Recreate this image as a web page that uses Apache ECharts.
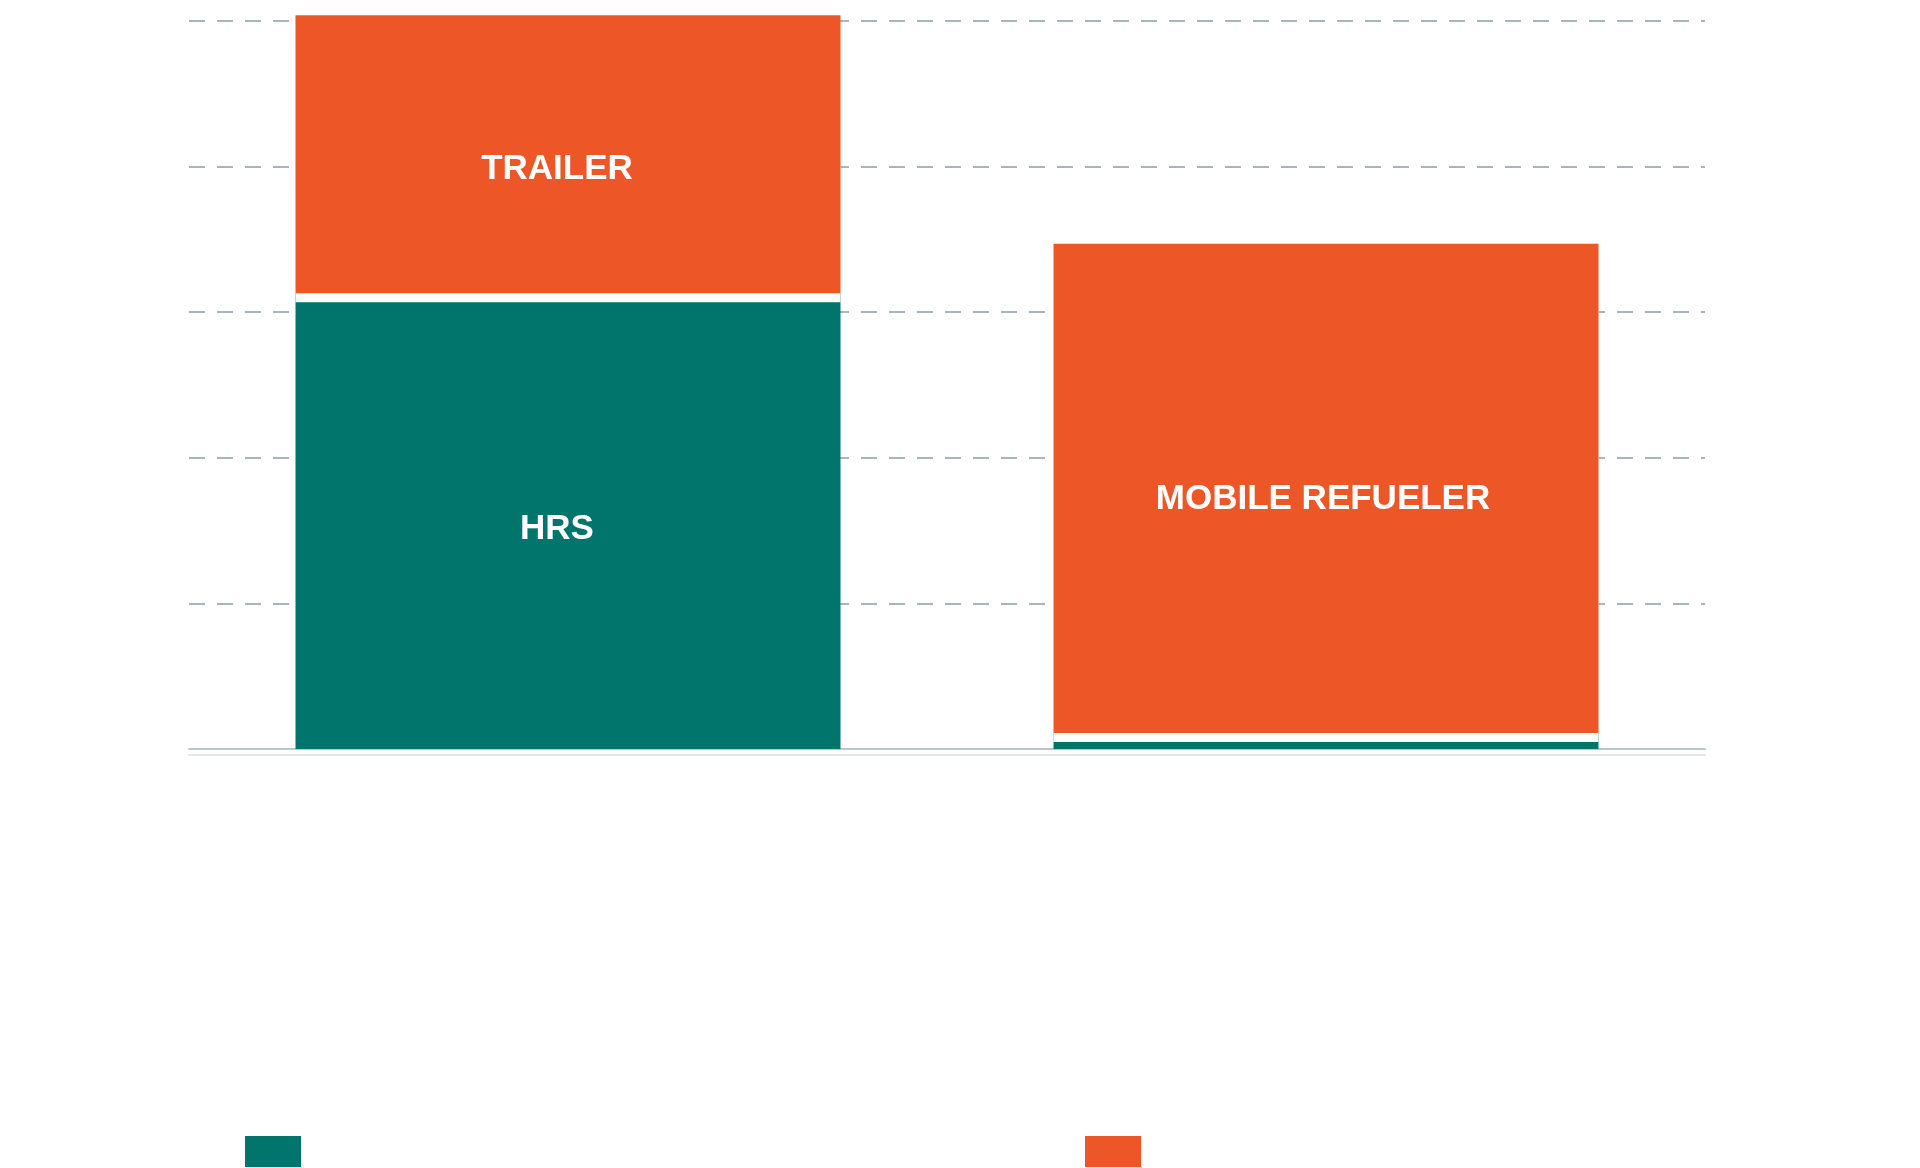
<!DOCTYPE html>
<html>
<head>
<meta charset="utf-8">
<title>HRS vs mobile refueler</title>
<style>
html,body{margin:0;padding:0;background:#fff;}
#main{width:1920px;height:1168px;}
</style>
<script src="https://cdn.jsdelivr.net/npm/echarts@6/dist/echarts.min.js"></script>
</head>
<body>
<div id="main"></div>
<script>
// 图表数据
var categories = ['Trailer delivery\nto a fixed station', 'Mobile refueler\nwith onboard storage'];
var seriesNames = ['Hydrogen refueling station (HRS)', 'Delivery equipment'];
var hrsValues = [3.13, 0.11];
var deliveryValues = [1.91, 3.36];
var hrsLabels = ['HRS', ''];
var deliveryLabels = ['TRAILER', 'MOBILE REFUELER'];
var yTickLabels = ['0', '1', '2', '3', '4', '5'];

var teal = '#01746b';
var orange = '#ed5627';

var myChart = echarts.init(document.getElementById('main'));

// 柱子上的白色文字
function barLabel(texts, offsets){
	return texts.map(function(t, i){
		return {
			show: t !== '',
			formatter: t,
			offset: offsets[i]
		};
	});
}
var hrsLabelOpt = barLabel(hrsLabels, [[-11,8],[0,0]]);
var deliveryLabelOpt = barLabel(deliveryLabels, [[-11,15],[-3,11]]);

var option = {
	animation: false,
	backgroundColor: '#fff',
	textStyle: {fontFamily: 'Liberation Sans, Arial, sans-serif'},
	grid: {left: 189, right: 215, top: 21, bottom: 419, containLabel: false},
	legend: [{
		data: [seriesNames[0]],
		left: 245, top: 1136, padding: 0,
		icon: 'rect', itemWidth: 56, itemHeight: 31,
		textStyle: {color: '#fff', fontSize: 28}
	},{
		data: [seriesNames[1]],
		left: 1085, top: 1136, padding: 0,
		icon: 'rect', itemWidth: 56, itemHeight: 31,
		textStyle: {color: '#fff', fontSize: 28}
	}],
	xAxis: [{
		type: 'category',
		data: categories,
		axisLine: {lineStyle: {color: '#b9c6cc', width: 2}},
		axisTick: {show: false},
		axisLabel: {color: '#fff', fontSize: 30, lineHeight: 48, margin: 44}
	},{
		// 底部浅色的第二条线
		type: 'category',
		data: categories,
		position: 'bottom',
		offset: 6,
		axisLine: {lineStyle: {color: '#e4e7e9', width: 2}},
		axisTick: {show: false},
		axisLabel: {show: false}
	}],
	yAxis: {
		type: 'value',
		min: 0,
		max: 5,
		interval: 1,
		name: 'Cost',
		nameLocation: 'middle',
		nameGap: 140,
		nameTextStyle: {color: '#fff', fontSize: 28},
		axisLine: {show: false},
		axisTick: {show: false},
		axisLabel: {
			color: '#fff', fontSize: 28, margin: 60,
			formatter: function(v){ return yTickLabels[v] || ''; }
		},
		splitLine: {lineStyle: {color: '#a7b6be', width: 2, type: [16, 12]}}
	},
	series: [{
		name: seriesNames[0],
		type: 'bar',
		stack: 'total',
		barWidth: 545,
		z: 2,
		clip: false,
		data: hrsValues.map(function(v, i){ return {value: v, label: hrsLabelOpt[i]}; }),
		itemStyle: {color: teal},
		label: {position: 'inside', color: '#fff', fontSize: 35, fontWeight: 'bold'}
	},{
		name: seriesNames[1],
		type: 'bar',
		stack: 'total',
		barWidth: 545,
		z: 3,
		clip: false,
		data: deliveryValues.map(function(v, i){ return {value: v, label: deliveryLabelOpt[i]}; }),
		itemStyle: {
			color: orange,
			// 白色阴影向下偏移，做出两段之间的空隙
			shadowColor: '#fff', shadowBlur: 0, shadowOffsetY: 9
		},
		label: {position: 'inside', color: '#fff', fontSize: 35, fontWeight: 'bold'}
	}]
};
myChart.setOption(option);
</script>
</body>
</html>
